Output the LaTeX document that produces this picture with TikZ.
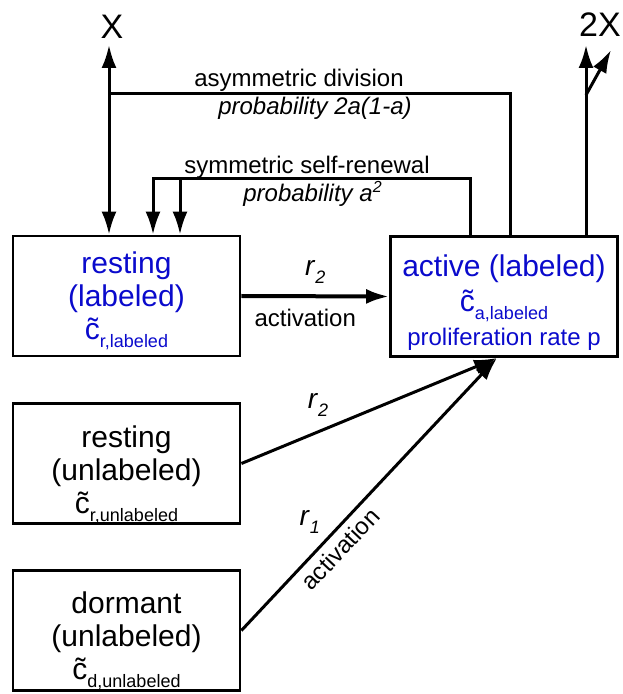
\documentclass[tikz,border=0pt]{standalone}
\usepackage{fontspec}
\setmainfont{Liberation Sans}
\usepackage{tikz}
\usetikzlibrary{arrows.meta}
\definecolor{cellblue}{HTML}{0A0ACC}
\newcommand{\ctilde}[1]{\~{c}\raisebox{-4pt}{\fontsize{9}{9}\selectfont #1}}
\newcommand{\rate}[1]{\textit{r}\raisebox{-4pt}{\fontsize{9}{9}\selectfont\textit{#1}}}

\begin{document}
\begin{tikzpicture}[x=0.5pt, y=-0.5pt, line width=1.5pt, >={Latex[length=11.5pt,width=7.5pt]},
  cellbox/.style={draw, line width=1.4pt, minimum width=113.5pt, minimum height=60pt, align=center, inner sep=0pt, font=\fontsize{15}{16.5}\selectfont},
  lbl/.style={inner sep=1pt, font=\fontsize{12}{13}\selectfont},
  prob/.style={inner sep=1pt, font=\fontsize{12}{13}\selectfont\itshape},
  ratelbl/.style={inner sep=0pt, font=\fontsize{14}{14}\selectfont},
  endlbl/.style={inner sep=0pt, font=\fontsize{17}{18}\selectfont}]
\useasboundingbox (0,0) rectangle (622,694);

\node[cellbox, text=cellblue] (restlab) at (126.5,296) {\rule{0pt}{16pt}resting\\(labeled)\\\ctilde{r,labeled}};
\node[cellbox, text=cellblue] (actlab) at (504,296.5) {\rule{0pt}{16.5pt}active (labeled)\\[1pt]\ctilde{a,labeled}\\[0.5pt]{\fontsize{12}{13}\selectfont proliferation rate p}};
\node[cellbox] (restunl) at (126.5,463.5) {\rule{0pt}{22pt}resting\\(unlabeled)\\\ctilde{r,unlabeled}};
\node[cellbox] (dormunl) at (126.5,630.5) {\rule{0pt}{21pt}dormant\\(unlabeled)\\\ctilde{d,unlabeled}};

\node[endlbl] (xout) at (112,27) {X};
\node[endlbl] (twoxout) at (600,25) {2X};

\coordinate (xtip) at (109,45);
\coordinate (asyl) at (109,94);
\coordinate (asyr) at (510,94);
\coordinate (syml) at (153,179);
\coordinate (symm) at (180,179);
\coordinate (symr) at (470,179);
\coordinate (twotip) at (586,45);
\coordinate (twofork) at (586,95);
\coordinate (twoside) at (611,50);
\coordinate (actin) at (497,358);

\draw[<->] (xtip) -- (xtip |- restlab.north);
\draw (asyl) -- (asyr) -- (asyr |- actlab.north);
\node[lbl] (asytxt) at (299,80) {asymmetric division};
\node[prob] (asyprob) at (315,108) {probability 2a(1-a)};

\draw[->] (symr |- actlab.north) -- (symr) -- (syml) -- (syml |- restlab.north);
\draw[->] (symm) -- (symm |- restlab.north);
\node[lbl] (symtxt) at (307,167) {symmetric self-renewal};
\node[prob] (symprob) at (313,194) {probability a\textsuperscript{2}};

\draw[->] (actlab.north -| twotip) -- (twotip);
\draw[->] (twofork) -- (twoside);

\draw[->, line width=2pt] (restlab.east) -- (actlab.west)
  node[midway, ratelbl, yshift=12pt] (ratetop) {\rate{2}}
  node[midway, lbl, xshift=-5pt, yshift=-11pt] (acttop) {activation};
\draw[->] (restunl.east) -- (actin)
  node[pos=0.3, ratelbl, yshift=13.5pt] (ratemid) {\rate{2}};
\draw[->] (dormunl.east) -- (actin)
  node[pos=0.34, below=2pt, sloped, lbl] (actlow) {activation}
  node[pos=0.4, ratelbl, xshift=-17pt] (ratelow) {\rate{1}};
\end{tikzpicture}
\end{document}
